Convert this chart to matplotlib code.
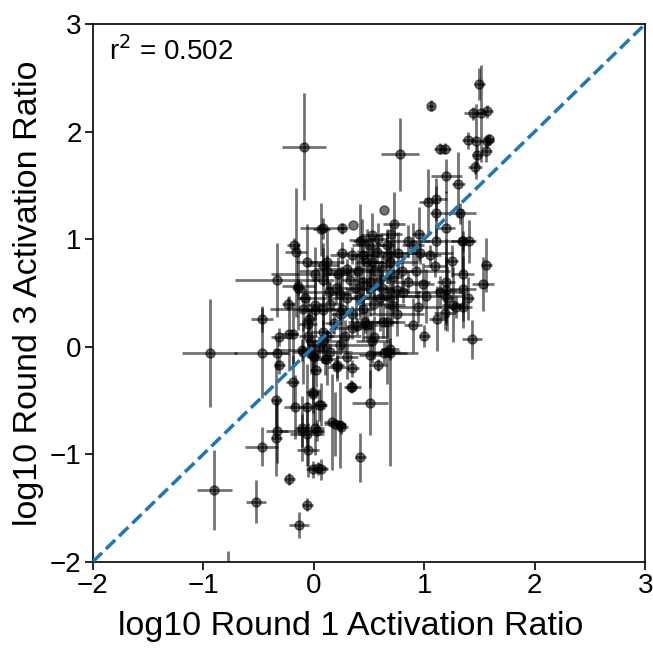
import matplotlib
matplotlib.use("Agg")
import matplotlib.pyplot as plt
import numpy as np

plt.rcParams['font.family'] = ['Liberation Sans', 'DejaVu Sans']

# log10 activation ratios (round 1 on x, round 3 on y) and their errors
x_vals = [-0.94, -0.47, -0.33, -0.47, -0.33, -0.14, -0.23, -0.18, -0.16, -0.09,
          0.07, -0.31, -0.22, -0.11, -0.31, -0.19, -0.01, -0.34, -0.17, -0.06,
          0.05, -0.33, -0.34, -0.11, -0.06, 0.03, -0.47, -0.05, -0.01, 0.04,
          -0.22, -0.90, -0.52, -0.06, -0.13, -0.78, 0.10, 0.21, 0.35, 0.58,
          0.51, 0.69, 0.35, 0.51, 0.07, 0.19, 0.25, 0.42, 0.07, 0.17,
          0.24, -0.11, 0.01, 0.34, -0.01, 0.21, 0.12, -0.10, -0.01, 0.08,
          0.24, 0.39, 0.55, 0.66, -0.19, 0.64, 0.08, 0.26, -0.06, 0.08,
          0.01, 0.22, 0.33, -0.14, 0.08, 0.14, 0.24, -0.10, 0.01, 0.08,
          0.26, -0.04, 0.46, 0.66, 0.42, 0.51, 0.60, 0.48, 0.57, 0.42,
          0.53, 0.66, 0.69, 0.60, 0.71, 0.35, 0.36, 0.64, 0.26, -0.05,
          0.01, 1.03, 1.11, 1.11, 1.32, 0.73, 1.20, 1.35, 1.11, 0.44,
          0.76, 0.12, 1.56, 0.53, 0.66, 0.96, 1.35, 1.53, 1.35, 0.12,
          0.51, 0.93, 0.99, 1.14, 1.20, 1.02, 0.81, 0.66, 1.35, 1.26,
          1.12, 0.94, 0.75, 1.43, 0.48, 0.35, 0.24, 0.53, 0.69, 0.08,
          0.63, 1.34, 1.41, 1.20, 1.21, 1.29, 1.19, 0.75, 0.85, 1.50,
          1.06, 1.44, 1.51, 1.57, 0.78, 1.14, 1.19, 1.40, 1.47, 1.57,
          1.48, 1.56, 1.46, 1.20, 1.31, 1.59, 0.30, 0.40, 0.45, 0.55,
          0.62, 0.50, 0.58, 0.70, 0.38, 0.20, 0.30, 0.15, 0.55, 0.45,
          0.80, 0.85, 0.90, 0.95, 1.05, 0.05, 0.00, -0.05, 0.15, 0.30,
          0.12, -0.02, 0.18, 0.02, 0.28, 0.45, 0.62, 0.72, 0.35, -0.08,
          0.90, 1.00, 1.10, 1.25, 1.40]
y_vals = [-0.06, -0.06, -0.06, 0.26, 0.62, 0.55, 0.40, 0.95, 0.88, 1.86,
          1.09, 0.09, 0.12, -0.03, -0.17, -0.33, -0.44, -0.50, -0.56, -0.56,
          -0.54, -0.78, -0.85, -0.78, -0.81, -0.78, -0.93, -0.96, -1.14, -1.13,
          -1.23, -1.33, -1.44, -1.47, -1.66, -2.35, -0.11, -0.19, -0.20, -0.17,
          -0.08, -0.06, -0.37, -0.52, -0.54, -0.72, -0.75, -1.03, -1.14, -0.70,
          -0.73, -0.76, -0.76, -0.37, -0.42, -0.17, -0.11, -0.05, -0.08, 0.05,
          0.02, 0.19, 0.09, -0.05, 0.12, -0.06, 1.10, 0.87, 0.79, 0.76,
          0.68, 0.68, 0.62, 0.56, 0.62, 0.51, 0.49, 0.35, 0.39, 0.34,
          0.35, 0.26, 0.23, 0.23, 0.45, 0.54, 0.63, 0.79, 0.88, 0.98,
          1.04, 0.95, 0.79, 0.45, 0.39, 0.30, 1.13, 1.27, 1.10, 0.21,
          0.34, 1.35, 1.37, 1.24, 1.24, 1.14, 1.10, 0.98, 0.98, 0.99,
          0.87, 0.79, 0.76, 0.79, 0.84, 0.87, 0.68, 0.58, 0.54, 0.70,
          0.60, 0.70, 0.58, 0.51, 0.60, 0.47, 0.51, 0.47, 0.37, 0.39,
          0.26, 0.37, 0.30, 0.07, 0.20, 0.17, 0.30, 0.05, -0.02, 0.14,
          0.23, 0.98, 0.98, 0.53, 0.45, 0.37, 0.31, 0.53, 0.98, 2.44,
          2.24, 2.17, 2.17, 2.19, 1.79, 1.84, 1.84, 1.92, 1.91, 1.91,
          1.78, 1.82, 1.67, 1.59, 1.51, 1.93, 0.72, 0.70, 0.85, 0.70,
          0.75, 0.95, 1.00, 1.05, 0.55, 0.55, 0.45, 0.40, 0.40, 0.60,
          0.70, 0.60, 0.95, 1.05, 0.85, 0.00, -0.10, 0.10, -0.05, -0.10,
          0.10, 0.05, 0.22, -0.22, 0.10, 0.35, 0.55, 0.65, 0.85, 0.45,
          0.20, 0.10, 0.75, 0.80, 0.45]
x_err = [0.25, 0.25, 0.10, 0.10, 0.38, 0.06, 0.06, 0.06, 0.10, 0.20,
         0.08, 0.08, 0.08, 0.25, 0.05, 0.06, 0.05, 0.05, 0.10, 0.06,
         0.06, 0.10, 0.05, 0.20, 0.15, 0.06, 0.15, 0.10, 0.06, 0.08,
         0.05, 0.16, 0.09, 0.05, 0.09, 0.05, 0.10, 0.08, 0.06, 0.08,
         0.10, 0.15, 0.08, 0.16, 0.05, 0.10, 0.06, 0.05, 0.06, 0.08,
         0.05, 0.06, 0.08, 0.05, 0.06, 0.06, 0.05, 0.10, 0.05, 0.15,
         0.30, 0.10, 0.10, 0.12, 0.05, 0.30, 0.20, 0.06, 0.10, 0.15,
         0.40, 0.10, 0.08, 0.15, 0.10, 0.30, 0.10, 0.30, 0.08, 0.20,
         0.10, 0.06, 0.15, 0.10, 0.08, 0.20, 0.10, 0.10, 0.15, 0.06,
         0.10, 0.08, 0.25, 0.08, 0.12, 0.08, 0.00, 0.00, 0.05, 0.08,
         0.10, 0.08, 0.10, 0.06, 0.15, 0.10, 0.08, 0.10, 0.15, 0.12,
         0.20, 0.15, 0.05, 0.10, 0.20, 0.30, 0.10, 0.10, 0.12, 0.25,
         0.08, 0.30, 0.10, 0.20, 0.08, 0.35, 0.15, 0.30, 0.08, 0.10,
         0.08, 0.30, 0.25, 0.09, 0.10, 0.20, 0.08, 0.15, 0.08, 0.10,
         0.20, 0.10, 0.06, 0.10, 0.06, 0.08, 0.10, 0.10, 0.20, 0.05,
         0.03, 0.08, 0.05, 0.05, 0.17, 0.05, 0.05, 0.06, 0.05, 0.06,
         0.05, 0.05, 0.06, 0.14, 0.06, 0.04, 0.30, 0.15, 0.10, 0.08,
         0.10, 0.15, 0.08, 0.10, 0.10, 0.10, 0.45, 0.10, 0.10, 0.05,
         0.12, 0.20, 0.10, 0.06, 0.10, 0.10, 0.06, 0.08, 0.20, 0.10,
         0.06, 0.06, 0.08, 0.05, 0.15, 0.10, 0.10, 0.08, 0.20, 0.05,
         0.08, 0.05, 0.10, 0.06, 0.05]
y_err = [0.50, 0.42, 0.15, 0.12, 0.34, 0.08, 0.06, 0.06, 0.60, 0.50,
         0.25, 0.08, 0.35, 0.10, 0.08, 0.25, 0.30, 0.35, 0.30, 0.40,
         0.15, 0.30, 0.35, 0.15, 0.30, 0.10, 0.18, 0.25, 0.08, 0.06,
         0.06, 0.37, 0.20, 0.06, 0.12, 0.45, 0.15, 0.10, 0.08, 0.06,
         0.30, 1.05, 0.05, 0.30, 0.20, 0.30, 0.06, 0.23, 0.10, 0.45,
         0.40, 0.30, 0.25, 0.06, 0.20, 0.15, 0.25, 0.30, 0.12, 0.20,
         0.10, 0.08, 0.20, 0.30, 0.30, 0.10, 0.10, 0.10, 0.35, 0.20,
         0.25, 0.15, 0.10, 0.40, 0.30, 0.10, 0.25, 0.20, 0.30, 0.15,
         0.40, 0.10, 0.10, 0.15, 0.20, 0.25, 0.08, 0.30, 0.10, 0.35,
         0.20, 0.10, 0.15, 0.30, 0.20, 0.08, 0.00, 0.00, 0.05, 0.25,
         0.08, 0.30, 0.20, 0.25, 0.10, 0.30, 0.35, 0.10, 0.15, 0.20,
         0.20, 0.30, 0.25, 0.15, 0.25, 0.10, 0.35, 0.25, 0.30, 0.15,
         0.10, 0.25, 0.20, 0.15, 0.40, 0.25, 0.10, 0.10, 0.20, 0.35,
         0.30, 0.15, 0.20, 0.18, 0.15, 0.10, 0.30, 0.20, 0.10, 0.20,
         0.15, 0.30, 0.20, 0.30, 0.30, 0.10, 0.15, 0.20, 0.15, 0.15,
         0.05, 0.06, 0.45, 0.06, 0.34, 0.05, 0.05, 0.08, 0.35, 0.06,
         0.10, 0.10, 0.06, 0.16, 0.30, 0.05, 0.10, 0.20, 0.10, 0.25,
         0.10, 0.10, 0.15, 0.10, 0.30, 0.15, 0.10, 0.20, 0.10, 0.30,
         0.15, 0.10, 0.20, 0.25, 0.10, 0.10, 0.15, 0.20, 0.08, 0.20,
         0.06, 0.30, 0.10, 0.15, 0.15, 0.30, 0.15, 0.35, 0.08, 0.10,
         0.25, 0.10, 0.10, 0.15, 0.20]
r2_text = "r$^2$ = 0.502"

fig = plt.figure(figsize=(6.53, 6.51), dpi=100)
ax = fig.add_axes([0.142, 0.137, 0.846, 0.826])

ax.errorbar(x_vals, y_vals, xerr=x_err, yerr=y_err, fmt='o', color='black',
            ms=6.5, elinewidth=2, capsize=0, alpha=0.55, zorder=2)
ax.plot([-2, 3], [-2, 3], '--', color='#1f77b4', lw=2.5, zorder=3)

ax.text(0.03, 0.95, r2_text, transform=ax.transAxes, fontsize=20,
        ha='left', va='center')

ax.set_xlim(-2, 3)
ax.set_ylim(-2, 3)
ax.set_xticks([-2, -1, 0, 1, 2, 3])
ax.set_yticks([-2, -1, 0, 1, 2, 3])
ax.tick_params(axis='both', which='major', labelsize=20, length=6, width=1.2,
               pad=2)
for s in ax.spines.values():
    s.set_linewidth(1.2)
ax.set_xlabel("log10 Round 1 Activation Ratio", fontsize=24.5)
ax.set_ylabel("log10 Round 3 Activation Ratio", fontsize=24.5, labelpad=4)
ax.xaxis.set_label_coords(0.467, -0.092)

plt.savefig("out.png", dpi=100)
